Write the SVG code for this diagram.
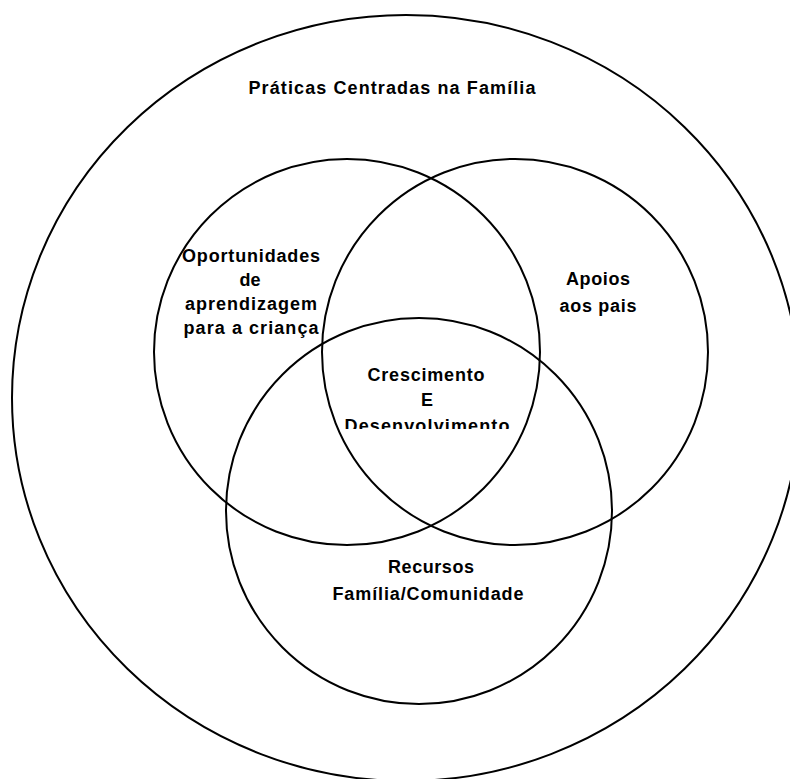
<svg xmlns="http://www.w3.org/2000/svg" width="790" height="779" viewBox="0 0 790 779">
  <style>
    .ring { fill: none; stroke: #000; stroke-width: 2; }
    .lbl { font-family: "Liberation Sans", Arial, sans-serif; font-size: 18px; font-weight: bold; fill: #000; text-anchor: middle; }
  </style>
  <defs>
    <clipPath id="clipCenter">
      <rect x="300" y="350" width="260" height="79"/>
    </clipPath>
  </defs>
  <rect width="790" height="779" fill="#fff"/>
  <g id="outer">
    <ellipse class="ring" cx="406" cy="398" rx="394" ry="383"/>
    <text class="lbl" x="392" y="94" textLength="287" lengthAdjust="spacing">Práticas Centradas na Família</text>
  </g>
  <g id="oportunidades">
    <circle class="ring" cx="347" cy="352" r="193"/>
    <text class="lbl" x="251" y="262" textLength="138" lengthAdjust="spacing">Oportunidades</text>
    <text class="lbl" x="250" y="286">de</text>
    <text class="lbl" x="251" y="310" textLength="132" lengthAdjust="spacing">aprendizagem</text>
    <text class="lbl" x="251" y="334" textLength="135" lengthAdjust="spacing">para a criança</text>
  </g>
  <g id="apoios">
    <circle class="ring" cx="515" cy="352" r="193"/>
    <text class="lbl" x="598" y="285" textLength="64" lengthAdjust="spacing">Apoios</text>
    <text class="lbl" x="598" y="312" textLength="77" lengthAdjust="spacing">aos pais</text>
  </g>
  <g id="recursos">
    <circle class="ring" cx="419" cy="511" r="193"/>
    <text class="lbl" x="431" y="573" textLength="86" lengthAdjust="spacing">Recursos</text>
    <text class="lbl" x="428" y="600" textLength="191" lengthAdjust="spacing">Família/Comunidade</text>
  </g>
  <g id="crescimento" clip-path="url(#clipCenter)">
    <text class="lbl" x="426" y="381" textLength="117" lengthAdjust="spacing">Crescimento</text>
    <text class="lbl" x="427" y="406">E</text>
    <text class="lbl" x="427" y="432" textLength="165" lengthAdjust="spacing">Desenvolvimento</text>
  </g>
  <g id="connectors"/>
</svg>
